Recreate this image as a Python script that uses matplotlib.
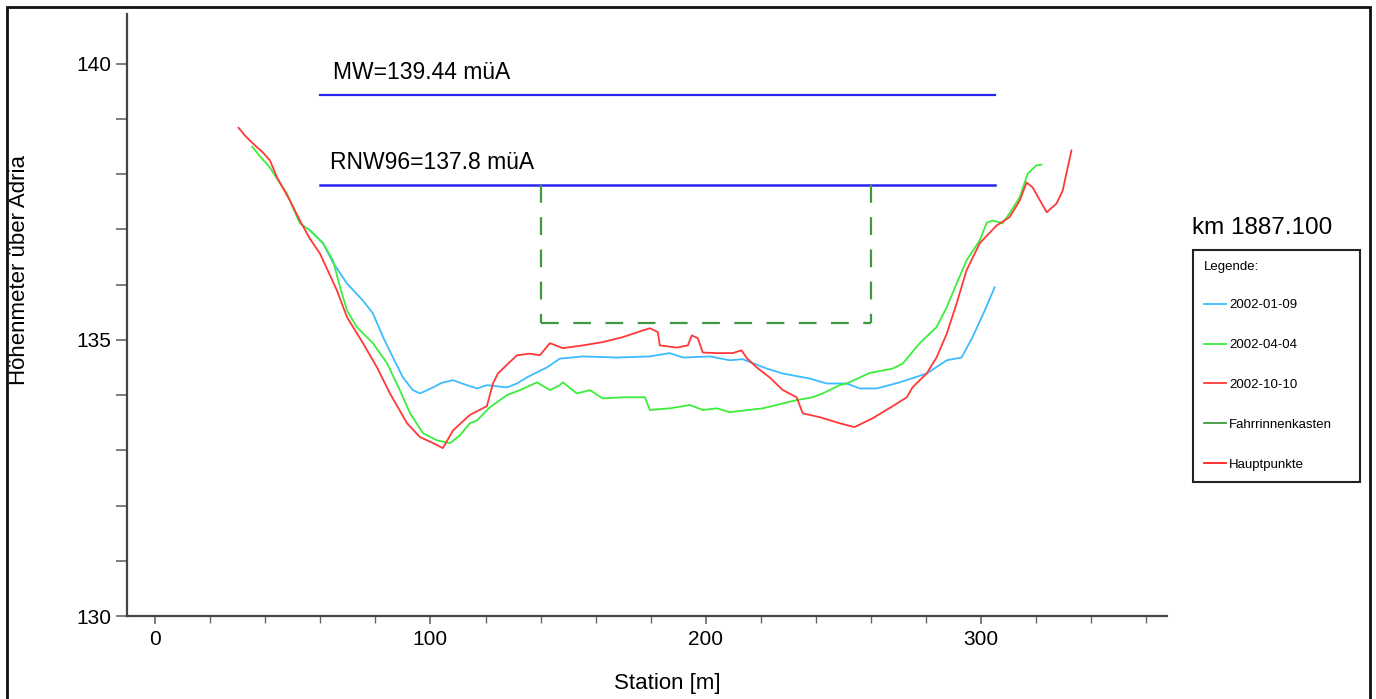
import matplotlib.pyplot as plt
import matplotlib.patches as mpatches
from matplotlib.lines import Line2D
from matplotlib.ticker import MultipleLocator

plt.rcParams['font.family'] = ['Liberation Sans', 'DejaVu Sans']

# profile 2002-01-09
station_jan = [56.3, 61, 64.6, 69.7, 75.5, 79.1, 82.8, 86.4, 90, 93.6, 96.2, 101, 104, 108.2,
               113.2, 117, 120.5, 124, 127.8, 131.4, 135, 142.3, 147, 155.4, 167.7, 179.7,
               186.9, 191.7, 201.5, 208.7, 213.4, 222.1, 228, 237.7, 243.9, 251.2, 255.9,
               262.1, 270.4, 280.2, 287.5, 292.9, 296.9, 301.3, 304.9]
height_jan = [136.98, 136.75, 136.40, 136.02, 135.71, 135.48, 135.05, 134.68, 134.32, 134.09,
              134.03, 134.14, 134.22, 134.27, 134.18, 134.12, 134.18, 134.16, 134.14, 134.21,
              134.32, 134.50, 134.66, 134.70, 134.68, 134.70, 134.76, 134.68, 134.70, 134.63,
              134.65, 134.48, 134.39, 134.30, 134.21, 134.21, 134.12, 134.12, 134.23, 134.39,
              134.63, 134.68, 135.05, 135.53, 135.95]

# profile 2002-04-04
station_apr = [35.2, 38, 41.7, 44.5, 47.9, 50, 52.6, 56.3, 61, 64.6, 67.2, 69.7, 73.3, 79.1,
               84.2, 88.9, 92.6, 97.3, 102.4, 107.1, 110.7, 114.3, 116.9, 121.6, 127.8, 132.5,
               138.7, 143.4, 147, 148.1, 153.2, 157.9, 162.6, 169.9, 177.9, 179.7, 186.9,
               194.2, 198.9, 204, 208.7, 220.7, 233, 238.8, 242.5, 248.6, 251.2, 259.5, 267.9,
               271.5, 277.7, 283.8, 287.5, 291.1, 294.7, 299.5, 302, 304.2, 307.8, 310.3, 314,
               316.9, 320.1, 321.9]
height_apr = [138.50, 138.33, 138.12, 137.90, 137.65, 137.40, 137.11, 136.98, 136.75, 136.44,
              135.95, 135.53, 135.23, 134.94, 134.58, 134.09, 133.67, 133.31, 133.18, 133.13,
              133.27, 133.49, 133.54, 133.78, 134.00, 134.09, 134.23, 134.09, 134.18, 134.23,
              134.03, 134.09, 133.94, 133.96, 133.96, 133.73, 133.76, 133.82, 133.73, 133.76,
              133.69, 133.76, 133.91, 133.96, 134.03, 134.18, 134.21, 134.40, 134.48, 134.57,
              134.94, 135.23, 135.59, 136.02, 136.44, 136.80, 137.12, 137.16, 137.11, 137.29,
              137.58, 138.01, 138.16, 138.17]

# profile 2002-10-10
station_oct = [30.3, 33, 36.3, 39, 41.7, 44.3, 49, 52.6, 56, 59.9, 66, 69.7, 75.5, 80.6, 85.3,
               91.5, 96.2, 101, 104.5, 108.2, 114.3, 120.5, 122.7, 124.5, 127.8, 131.4, 136.1,
               139.7, 143.4, 148.1, 155.4, 162.6, 169.9, 177.1, 179.7, 182.6, 183.3, 189.5,
               193.5, 194.9, 197.1, 198.9, 204, 209.8, 213, 214.9, 218.5, 223.2, 228, 233,
               235.2, 241.4, 248.6, 254, 260.6, 267.9, 273, 275.1, 280.2, 283.8, 287.5, 291.1,
               294.7, 299.5, 305.6, 310.3, 314, 316.5, 318.7, 323.8, 327.4, 329.6, 332.8]
height_oct = [138.84, 138.68, 138.52, 138.40, 138.25, 137.94, 137.52, 137.16, 136.85, 136.56,
              135.90, 135.41, 134.94, 134.50, 134.03, 133.49, 133.24, 133.13, 133.04, 133.36,
              133.64, 133.80, 134.21, 134.39, 134.55, 134.72, 134.75, 134.72, 134.94, 134.85,
              134.90, 134.96, 135.05, 135.17, 135.21, 135.14, 134.90, 134.86, 134.90, 135.08,
              135.03, 134.77, 134.76, 134.76, 134.81, 134.67, 134.50, 134.32, 134.09, 133.96,
              133.67, 133.60, 133.49, 133.42, 133.58, 133.80, 133.96, 134.14, 134.39, 134.68,
              135.11, 135.66, 136.26, 136.75, 137.07, 137.22, 137.52, 137.85, 137.76, 137.31,
              137.47, 137.70, 138.43]

# water levels and navigation channel box
mw_level = 139.44
rnw_level = 137.8
level_range = [60, 305]
channel_left, channel_right = 140, 260
channel_bottom = 135.3

c_jan = '#3cbcff'
c_apr = '#3bee3b'
c_oct = '#ff3838'
c_box = '#3f9a3f'
c_lvl = '#2626ee'

fig = plt.figure(figsize=(13.76, 6.99), dpi=100)
ax = fig.add_axes([127 / 1376, 1 - 616 / 699, 1040 / 1376, 602 / 699])

ax.plot(level_range, [mw_level, mw_level], color=c_lvl, lw=1.6)
ax.plot(level_range, [rnw_level, rnw_level], color=c_lvl, lw=1.8)
ax.text(64.5, mw_level + 0.2, 'MW=139.44 müA', fontsize=16.5, va='bottom')
ax.text(63.5, rnw_level + 0.2, 'RNW96=137.8 müA', fontsize=16.5, va='bottom')

# Fahrrinnenkasten (dashed)
dash = (0, (8, 6.5))
ax.plot([channel_left, channel_left], [rnw_level, channel_bottom], color=c_box, lw=1.6, ls=dash)
ax.plot([channel_right, channel_right], [rnw_level, channel_bottom], color=c_box, lw=1.6, ls=dash)
ax.plot([channel_left, channel_right], [channel_bottom, channel_bottom], color=c_box, lw=1.6, ls=dash)

ax.plot(station_jan, height_jan, color=c_jan, lw=1.3)
ax.plot(station_apr, height_apr, color=c_apr, lw=1.3)
ax.plot(station_oct, height_oct, color=c_oct, lw=1.3)

ax.set_xlim(-10.2, 367.5)
ax.set_ylim(130, 140.9)
ax.xaxis.set_major_locator(MultipleLocator(100))
ax.xaxis.set_minor_locator(MultipleLocator(20))
ax.yaxis.set_major_locator(MultipleLocator(5))
ax.yaxis.set_minor_locator(MultipleLocator(1))
ax.tick_params(which='both', direction='out', color='#666666', labelsize=15)
ax.tick_params(axis='y', which='both', length=8, width=1.2)
ax.tick_params(axis='x', which='major', length=6, width=1.2, pad=4)
ax.tick_params(axis='x', which='minor', length=5, width=1)
for s in ['top', 'right']:
    ax.spines[s].set_visible(False)
for s in ['left', 'bottom']:
    ax.spines[s].set_color('#444444')
    ax.spines[s].set_linewidth(1.6)

ax.set_xlabel('Station [m]', fontsize=16)
ax.set_ylabel('Höhenmeter über Adria', fontsize=16)
ax.xaxis.set_label_coords(0.52, -0.095)
ax.yaxis.set_label_coords(-0.093, 0.575)

fig.text(1192 / 1376, 1 - 228 / 699, 'km 1887.100', fontsize=17.5, va='center', ha='left')

handles = [Line2D([], [], color=c_jan, lw=1.3),
           Line2D([], [], color=c_apr, lw=1.3),
           Line2D([], [], color=c_oct, lw=1.3),
           Line2D([], [], color=c_box, lw=1.3),
           Line2D([], [], color='#ff2020', lw=1.3)]
labels = ['2002-01-09', '2002-04-04', '2002-10-10', 'Fahrrinnenkasten', 'Hauptpunkte']
leg = fig.legend(handles, labels, title='Legende:', loc='upper left',
                 bbox_to_anchor=(1193 / 1376, 1 - 481 / 699, 167 / 1376, 231 / 699),
                 mode='expand', fontsize=9.5, title_fontsize=9.5, labelspacing=2.1,
                 handlelength=1.7, handletextpad=0.25, borderpad=0.8, borderaxespad=0,
                 fancybox=False, framealpha=1, alignment='left')
leg.get_frame().set_edgecolor('#222222')
leg.get_frame().set_linewidth(1.5)
leg._legend_box.sep = 19

# outer frame of the screenshot
fig.patches.append(mpatches.Rectangle((7 / 1376, -0.02), 1363 / 1376, 1.02 - 7 / 699,
                                      transform=fig.transFigure, fill=False,
                                      edgecolor='#111111', lw=2))

fig.savefig('out.png', dpi=100)
